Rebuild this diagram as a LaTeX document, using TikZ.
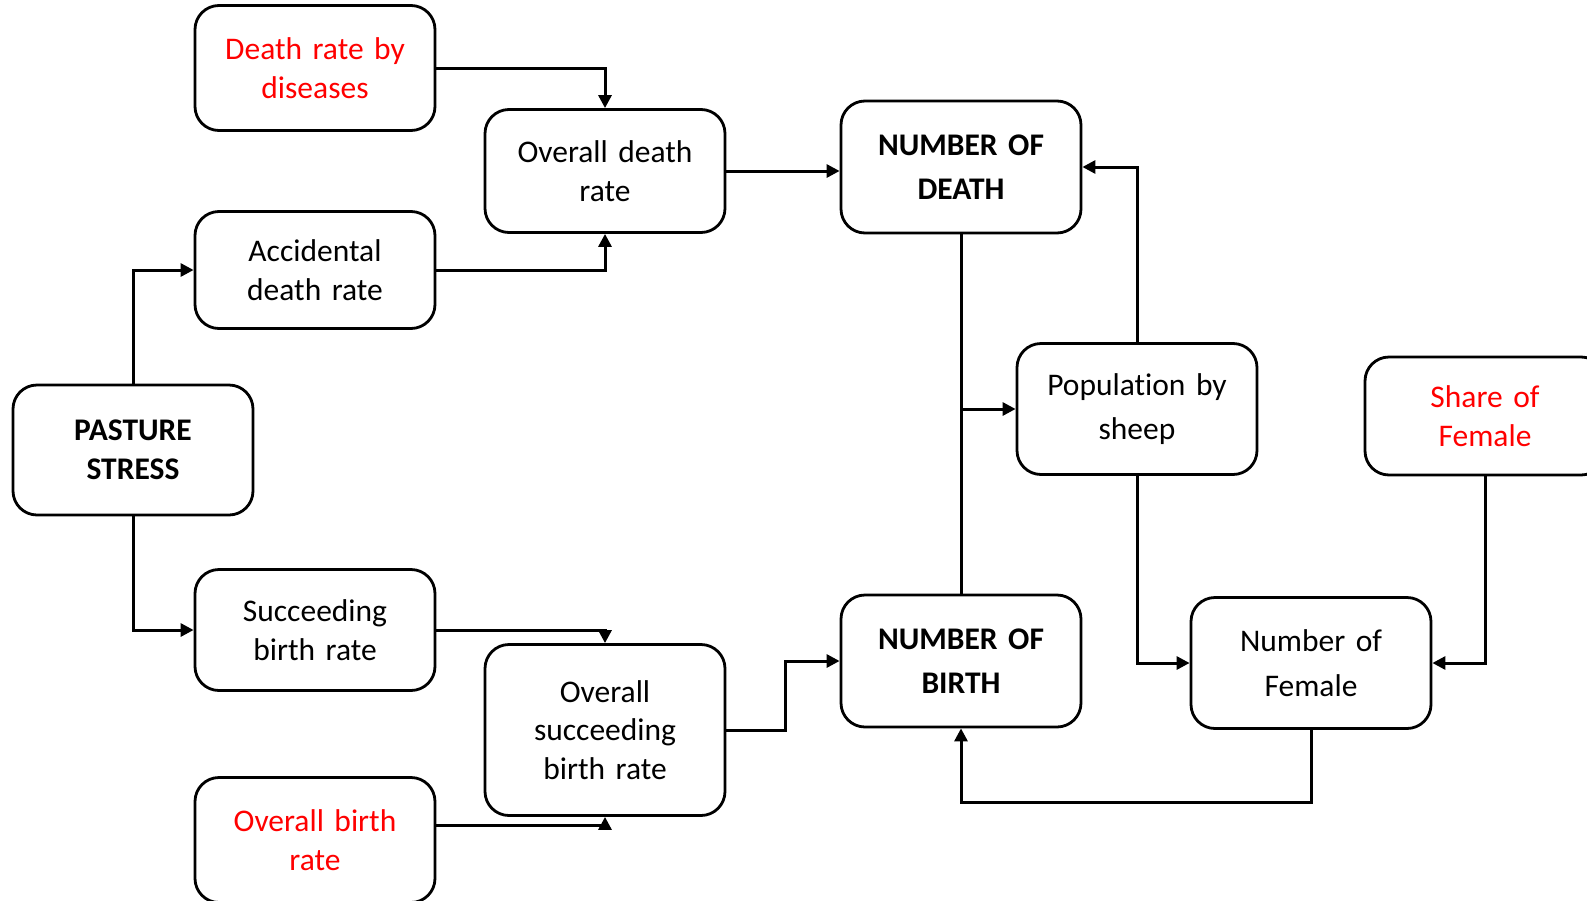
\documentclass[tikz,border=0pt]{standalone}
\usepackage{fontspec}
\setmainfont[RawFeature={-liga;-clig;-calt;-dlig}]{Carlito}
\usetikzlibrary{arrows.meta}

\begin{document}
\begin{tikzpicture}[x=1pt,y=-1pt,
  block/.style={rectangle,draw,line width=2.8pt,rounded corners=24pt,minimum width=240pt,text width=225pt,align=center,font=\fontsize{31.5}{38.5}\selectfont},
  wide/.style={font=\fontsize{31.5}{44.5}\selectfont},
  bold/.style={font=\fontsize{31.5}{44.5}\selectfont\bfseries},
  link/.style={line width=3pt,-{Triangle[length=13pt,width=13pt]}}]
\useasboundingbox (0,0) rectangle (1587,900);
%\draw[help lines] (0,0) grid[step=100] (1587,900);
\path
(315,68) node [block,text=red,minimum height=125pt] (diseases) {Death rate by\\diseases}
(605,171) node [block,minimum height=123pt] (odr) {Overall death\\rate}
(961,167) node [block,bold,minimum height=132pt] (nod) {NUMBER OF\\DEATH}
(315,270) node [block,minimum height=117pt] (adr) {Accidental\\death rate}
(133,450) node [block,font=\fontsize{31.5}{38.5}\selectfont\bfseries,minimum height=130pt] (ps) {PASTURE\\STRESS}
(1137,409) node [block,wide,minimum height=131pt] (pop) {Population by\\sheep}
(1485,416) node [block,text=red,font=\fontsize{31.5}{39.5}\selectfont,minimum height=118pt] (sof) {Share of\\Female}
(315,630) node [block,minimum height=121pt] (sbr) {Succeeding\\birth rate}
(605,730) node [block,minimum height=171pt] (osb) {Overall\\succeeding\\birth rate}
(961,661) node [block,bold,minimum height=132pt] (nob) {NUMBER OF\\BIRTH}
(1311,663) node [block,wide,minimum height=131pt] (nof) {Number of\\Female}
(315,840) node [block,text=red,minimum height=125pt] (obr) {Overall birth\\rate}
;

% death side
\draw[link] (diseases.east) -| (odr.north);
\draw[link] (adr.east) -| (odr.south);
\draw[link] (odr.east) -- (odr.east -| nod.west);
\draw[link] (ps.north) |- (adr.west);

% birth side
\draw[link] (ps.south) |- (sbr.west);
\draw[link] (sbr.east) -| (osb.north);
\draw[link] ([yshift=15pt]obr.east) -| (osb.south);
\draw[link] (osb.east) -- ++(59,0) |- (nob.west);

% population
\draw[line width=3pt] (nod.south) -- (nob.north);
\draw[link] (nod.south |- pop.west) -- (pop.west);
\draw[link] (pop.north) |- (nod.east);
\draw[link] (pop.south) |- (nof.west);
\draw[link] (sof.south) |- (nof.east);
\draw[link] (nof.south) -- ++(0,73) -| (nob.south);
\end{tikzpicture}
\end{document}
